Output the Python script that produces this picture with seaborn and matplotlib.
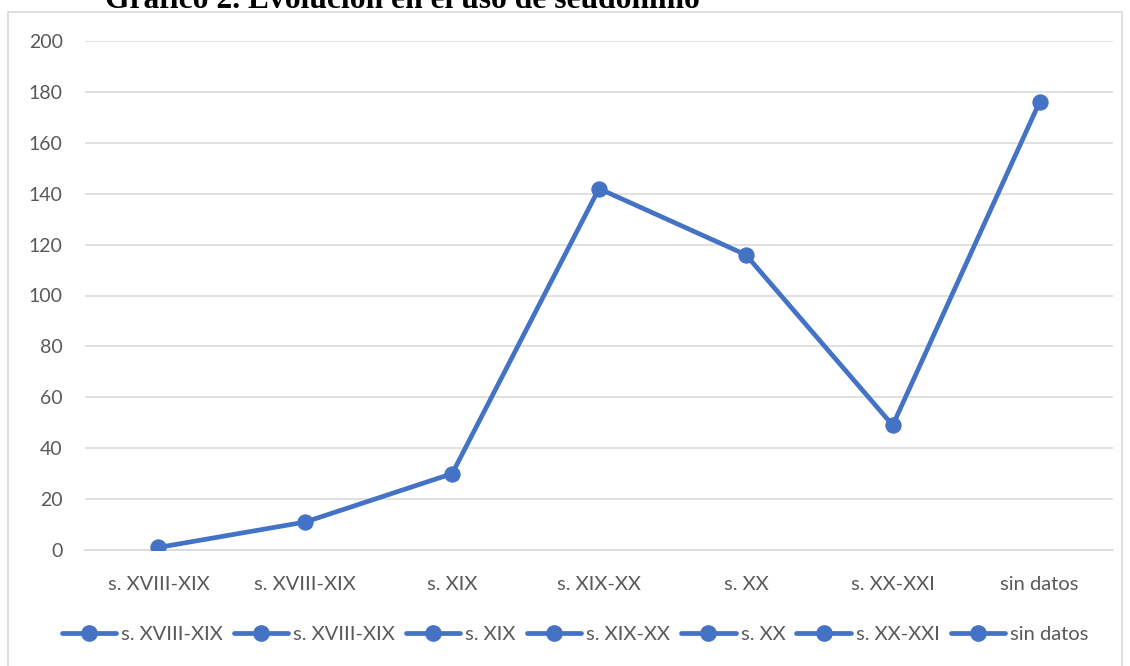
import matplotlib
matplotlib.use("Agg")
import matplotlib.pyplot as plt
from matplotlib.lines import Line2D
from matplotlib.patches import Rectangle
import pandas as pd
import seaborn as sns

# Data
categories = ["s. XVIII-XIX", "s. XVIII-XIX", "s. XIX", "s. XIX-XX", "s. XX", "s. XX-XXI", "sin datos"]
values = [1, 11, 30, 142, 116, 49, 176]
yticks = [0, 20, 40, 60, 80, 100, 120, 140, 160, 180, 200]

BLUE = "#4472C4"
GRID = "#D9D9D9"
TXT = "#595959"

df = pd.DataFrame({"pos": range(len(categories)), "valor": values})

sns.set_style("white")
plt.rcParams["font.family"] = ["Lato", "DejaVu Sans"]

fig = plt.figure(figsize=(11.3, 6.66), dpi=100)
ax = fig.add_axes([85 / 1130, 1 - 550 / 666, 1028 / 1130, 509 / 666])

sns.lineplot(data=df, x="pos", y="valor", color=BLUE, linewidth=3.4, marker="o",
             markersize=11, markeredgecolor=BLUE, ax=ax, zorder=3)

ax.set_xlim(-0.5, len(categories) - 0.5)
ax.set_ylim(0, 200)
ax.set_yticks(yticks)
ax.set_yticklabels([str(v) for v in yticks], color=TXT, fontsize=14)
ax.set_xticks(range(len(categories)))
ax.set_xticklabels(categories, color=TXT, fontsize=14.5)
ax.set_xticks([i - 0.5 for i in range(len(categories) + 1)], minor=True)
ax.tick_params(axis="x", which="major", length=0, pad=19)
ax.tick_params(axis="x", which="minor", length=7, color=GRID, width=1.2, direction="out")
ax.tick_params(axis="y", length=0, pad=16)
ax.set_xlabel("")
ax.set_ylabel("")
ax.grid(axis="y", color=GRID, linewidth=1.1)
for s in ["top", "right", "left"]:
    ax.spines[s].set_visible(False)
ax.spines["bottom"].set_color(GRID)
ax.spines["bottom"].set_linewidth(1.2)

# outer chart frame
fig.patches.append(Rectangle((8 / 1130, -0.1), 1114 / 1130, 1.1 - 12 / 666,
                             transform=fig.transFigure, fill=False,
                             edgecolor=GRID, linewidth=1.2))

# title, partly cut at the top as in the source
fig.text(105 / 1130, 1 - 8 / 666, "Gráfico 2. Evolución en el uso de seudónimo",
         family="Liberation Serif", fontweight="bold", fontsize=22.7,
         ha="left", va="baseline", color="black")

handles = [Line2D([0], [0], color=BLUE, linewidth=3.4, marker="o", markersize=11)
           for _ in categories]
fig.legend(handles, categories, loc="center", bbox_to_anchor=(575 / 1130, 1 - 634 / 666),
           ncol=len(categories), frameon=False, fontsize=14.5, labelcolor=TXT,
           handlelength=2.7, handletextpad=0.25, columnspacing=0.55, borderpad=0)

fig.savefig("out.png", dpi=100)
